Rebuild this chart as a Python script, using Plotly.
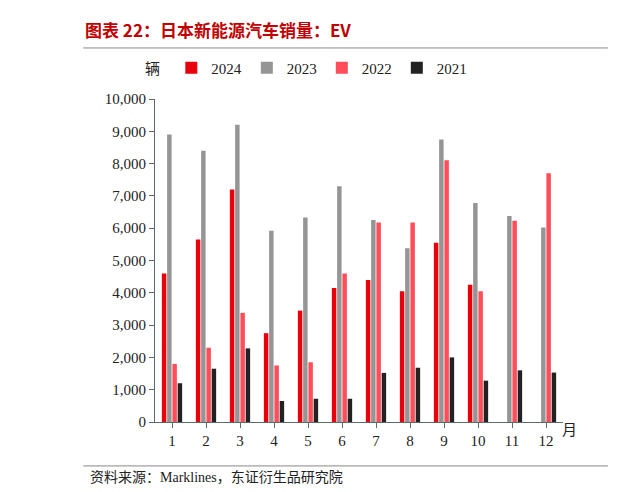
import plotly.graph_objects as go

months = [str(i) for i in range(1, 13)]
ev_2024 = [4600, 5650, 7200, 2750, 3450, 4150, 4400, 4050, 5550, 4250, None, None]
ev_2023 = [8900, 8400, 9200, 5920, 6330, 7300, 6250, 5380, 8750, 6780, 6380, 6020]
ev_2022 = [1800, 2300, 3380, 1750, 1850, 4600, 6180, 6180, 8100, 4050, 6230, 7700]
ev_2021 = [1200, 1650, 2280, 650, 720, 720, 1520, 1680, 2000, 1280, 1600, 1530]

serif = "Liberation Serif, Noto Sans CJK SC"
fig = go.Figure()
for name, vals, col in [("2024", ev_2024, "#e8000b"), ("2023", ev_2023, "#959595"),
                        ("2022", ev_2022, "#ff4d5a"), ("2021", ev_2021, "#222222")]:
    fig.add_trace(go.Bar(x=months, y=vals, name=name, marker_color=col, marker_line_width=0))

fig.update_layout(
    width=617, height=492, barmode="group", bargap=0.38, bargroupgap=0.15,
    plot_bgcolor="white", paper_bgcolor="white",
    margin=dict(l=147, r=62, t=91, b=78),
    font=dict(family=serif, size=15, color="#222"),
    legend=dict(orientation="h", x=0.04, y=1.096, xanchor="left", yanchor="middle",
                font=dict(size=15), itemwidth=30),
    xaxis=dict(showline=True, linecolor="#5a6b6b", ticks="outside", tickcolor="#5a6b6b",
               ticklen=5),
    yaxis=dict(range=[0, 10000], dtick=1000, tickformat=",", showline=True,
               linecolor="#5a6b6b", ticks="outside", tickcolor="#5a6b6b", ticklen=5,
               showgrid=False, zeroline=False),
    annotations=[
        dict(text="<b>图表 22：日本新能源汽车销量：EV</b>", xref="paper", yref="paper",
             x=-0.176, y=1.214, xanchor="left", yanchor="middle", showarrow=False,
             font=dict(size=17, color="#c00000", family="Noto Sans CJK SC")),
        dict(text="辆", xref="paper", yref="paper", x=-0.03, y=1.096, showarrow=False,
             yanchor="middle", font=dict(size=15, family="Noto Sans CJK SC")),
        dict(text="月", xref="paper", yref="paper", x=1.04, y=-0.06, showarrow=False,
             font=dict(size=15, family="Noto Sans CJK SC")),
        dict(text="资料来源：Marklines，东证衍生品研究院", xref="paper", yref="paper",
             x=-0.164, y=-0.173, xanchor="left", yanchor="middle", showarrow=False,
             font=dict(size=14, family=serif)),
    ],
    shapes=[
        dict(type="line", xref="paper", yref="paper", x0=-0.176, x1=1.11, y0=1.158, y1=1.158,
             line=dict(color="#888", width=1)),
        dict(type="line", xref="paper", yref="paper", x0=-0.176, x1=1.11, y0=-0.136, y1=-0.136,
             line=dict(color="#888", width=1)),
    ],
)
fig.write_html("out.html")
